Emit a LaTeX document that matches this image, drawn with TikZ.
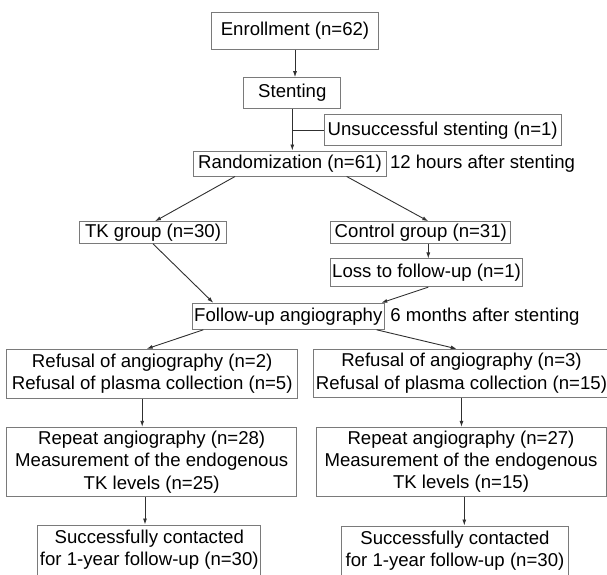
\documentclass[tikz,border=0pt]{standalone}
\usepackage{fontspec}
\setmainfont{Liberation Sans}
\usetikzlibrary{arrows.meta, positioning}
\definecolor{cgrey}{HTML}{7A7A7A}
\definecolor{cdark}{HTML}{303030}
\tikzset{
  every picture/.style={font=\fontsize{18.6}{22.3}\selectfont, line width=1pt},
  box/.style={draw=cgrey, align=center, inner xsep=2pt, inner ysep=1pt},
  link/.style={draw=cdark, line width=0.9pt},
  arrow/.style={link, -{Latex[length=6pt, width=4pt]}},
  note/.style={inner sep=0pt},
}

\begin{document}
\begin{tikzpicture}[x=1pt, y=-1pt]
  \useasboundingbox (0,0) rectangle (607,574);
  \clip (0,0) rectangle (607,574);
  % top part
  \node[box, minimum width=166.6pt, minimum height=37pt] (enroll) at (295,30.8) {Enrollment (n=62)};
  \node[box, minimum width=96.7pt, minimum height=30.6pt] (stent) at (292.3,93) {Stenting};
  \node[box, minimum width=236.7pt, minimum height=30.7pt] (unsucc) at (442.7,130.3) {Unsuccessful stenting (n=1)};
  \node[box, minimum width=193.4pt, minimum height=25pt] (random) at (290,163.5) {Randomization (n=61)};
  \node[note, right=2.3pt of random] (after12) {12 hours after stenting};
  % groups
  \node[box, minimum width=147.4pt, minimum height=21.6pt] (tk) at (153,232.5) {TK group (n=30)};
  \node[box, minimum width=180.3pt, minimum height=21.6pt] (control) at (420.8,232.5) {Control group (n=31)};
  \node[box, minimum width=191.6pt, minimum height=27.7pt] (loss) at (426.5,272.8) {Loss to follow-up (n=1)};
  \node[box, minimum width=191.3pt, minimum height=26pt] (follow) at (288.3,316.3) {Follow-up angiography};
  \node[note, right=5pt of follow] (after6) {6 months after stenting};
  % left and right columns
  \node[box, minimum width=291pt, minimum height=49pt] (refL) at (152.2,373.8) {Refusal of angiography (n=2)\\Refusal of plasma collection (n=5)};
  \node[box, minimum width=294pt, minimum height=48pt] (refR) at (461.5,373.3) {Refusal of angiography (n=3)\\Refusal of plasma collection (n=15)};
  \node[box, minimum width=290pt, minimum height=69.4pt] (repL) at (151.7,462) {Repeat angiography (n=28)\\Measurement of the endogenous\\TK levels (n=25)};
  \node[box, minimum width=290pt, minimum height=68.7pt] (repR) at (461,461.7) {Repeat angiography (n=27)\\Measurement of the endogenous\\TK levels (n=15)};
  \node[box, minimum width=220pt, minimum height=50pt] (succL) at (149.3,550) {Successfully contacted\\for 1-year follow-up (n=30)};
  \node[box, minimum width=226.6pt, minimum height=50pt] (succR) at (455,551) {Successfully contacted\\for 1-year follow-up (n=30)};
  % connectors
  \draw[arrow] (enroll.south) -- (enroll.south |- stent.north);
  \draw[arrow] (stent.south) -- (stent.south |- random.north);
  \draw[link] (stent.south |- unsucc.west) -- (unsucc.west);
  \draw[arrow] ([xshift=-55pt]random.south) -- ([xshift=2pt]tk.north);
  \draw[arrow] ([xshift=56.7pt]random.south) -- ([xshift=7.5pt]control.north);
  \draw[arrow] ([xshift=7.5pt]control.south) -- ([xshift=7.5pt]control.south |- loss.north);
  \draw[arrow] (tk.south) -- ([xshift=-75pt]follow.north);
  \draw[arrow] ([xshift=1.8pt]loss.south) -- ([xshift=93pt]follow.north);
  \draw[arrow] ([xshift=-85pt]follow.south) -- ([xshift=-5.5pt]refL.north);
  \draw[arrow] ([xshift=88.4pt]follow.south) -- ([xshift=-4.8pt]refR.north);
  \draw[arrow] ([xshift=-10pt]refL.south) -- ([xshift=-10pt]refL.south |- repL.north);
  \draw[arrow] ([xshift=-6.7pt]repL.south) -- ([xshift=-6.7pt]repL.south |- succL.north);
  \draw[arrow] (refR.south) -- (refR.south |- repR.north);
  \draw[arrow] ([xshift=3.3pt]repR.south) -- ([xshift=3.3pt]repR.south |- succR.north);
\end{tikzpicture}
\end{document}
